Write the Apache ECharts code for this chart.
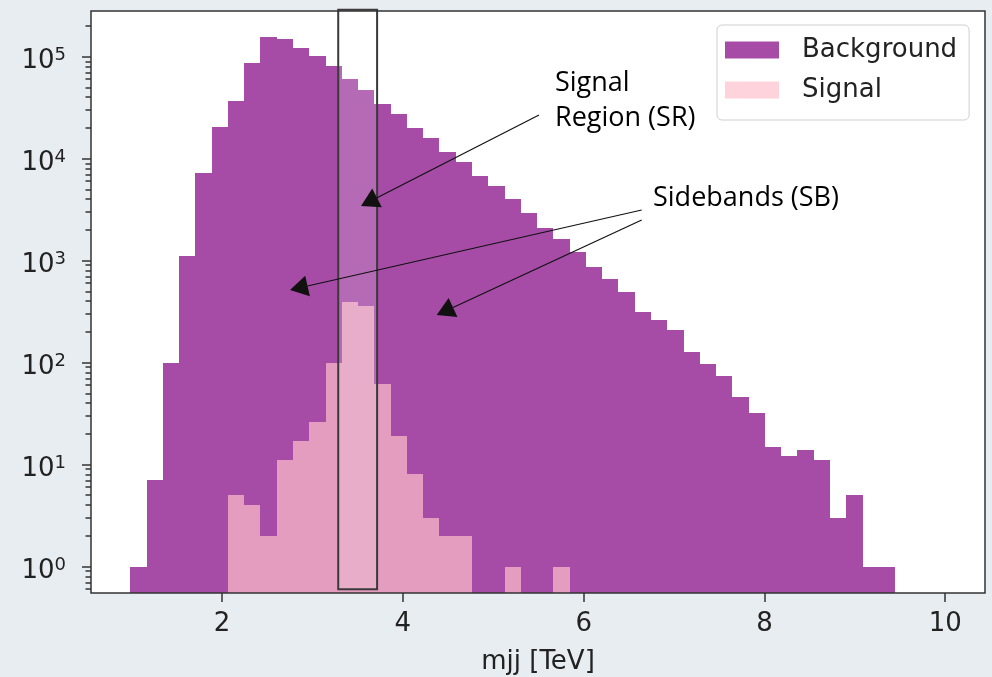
<!DOCTYPE html>
<html><head><meta charset="utf-8">
<script src="https://cdn.jsdelivr.net/npm/echarts@6/dist/echarts.min.js"></script>
<style>html,body{margin:0;padding:0;background:#E8EDF2}#c{width:992px;height:677px}</style>
</head><body><div id="c"></div>
<script>
// ---- data ----
const BIN_START = 0.985;   // first bin edge [TeV]
const BIN_WIDTH = 0.18;    // bin width [TeV]
const backgroundCounts = [1, 7, 100, 1100, 7200, 20300, 37000, 86000, 157000, 148000,
  122000, 102000, 81000, 60000, 47000, 34400, 27200, 20100, 15800, 11700,
  9200, 6800, 5400, 4000, 2900, 2100, 1620, 1200, 870, 660,
  490, 316, 262, 209, 128, 97, 74, 46, 32, 15,
  12, 14, 11, 3, 5, 1, 1, 0, 0, 0];
const signalCounts = [0, 0, 0, 0, 0, 0, 5, 4, 2, 11,
  17, 26, 100, 396, 360, 61, 19, 8, 3, 2,
  2, 0, 0, 1, 0, 0, 1, 0, 0, 0,
  0, 0, 0, 0, 0, 0, 0, 0, 0, 0,
  0, 0, 0, 0, 0, 0, 0, 0, 0, 0];
const xTickValues = [2, 4, 6, 8, 10];
const yTickValues = [1, 10, 100, 1000, 10000, 100000];
const yMinorTickValues = [0.6, 0.7, 0.8, 0.9,
  2, 3, 4, 5, 6, 7, 8, 9,
  20, 30, 40, 50, 60, 70, 80, 90,
  200, 300, 400, 500, 600, 700, 800, 900,
  2000, 3000, 4000, 5000, 6000, 7000, 8000, 9000,
  20000, 30000, 40000, 50000, 60000, 70000, 80000, 90000,
  200000];
const seriesNames = ['Background', 'Signal'];
const SR_RANGE = [3.285, 3.715];
const X_MIN = 0.55, X_MAX = 10.44;
const Y_MIN = 0.55, Y_MAX = 2.8e5;

// ---- styles ----
const BG_COLOR = '#A64CA6';
const SIG_COLOR = '#E49DBF';
const SIG_LEGEND = '#FFD3DB';
const FONT = 'DejaVu Sans';
const TXT = '#222';

function toBins(counts) {
  const out = [];
  counts.forEach((c, i) => {
    if (c > 0) out.push([BIN_START + i * BIN_WIDTH, BIN_START + (i + 1) * BIN_WIDTH, c]);
  });
  return out;
}

function histRender(color) {
  return function (params, api) {
    const p0 = api.coord([api.value(0), api.value(2)]);
    const p1 = api.coord([api.value(1), Y_MIN]);
    const xa = Math.round(p0[0]), xb = Math.round(p1[0]);
    const ya = Math.round(p0[1]);
    return {
      type: 'rect',
      shape: { x: xa, y: ya, width: xb - xa, height: p1[1] - ya },
      style: { fill: color }
    };
  };
}

const chart = echarts.init(document.getElementById('c'), null, { renderer: 'canvas' });

// annotation arrows (pixel overlay, like the slide annotations)
const arrows = [
  { from: [539, 115], tip: [361, 206] },
  { from: [641.7, 210], tip: [290, 290] },
  { from: [641.7, 220], tip: [436.7, 315] }
];
const graphics = [];
arrows.forEach(a => {
  const dx = a.tip[0] - a.from[0], dy = a.tip[1] - a.from[1];
  const len = Math.sqrt(dx * dx + dy * dy);
  const ux = dx / len, uy = dy / len;
  const L = 18, W = 10.5;
  const bx = a.tip[0] - L * ux, by = a.tip[1] - L * uy;
  graphics.push({ type: 'line', z: 100, silent: true,
    shape: { x1: a.from[0], y1: a.from[1], x2: bx, y2: by },
    style: { stroke: '#111', lineWidth: 1.2 } });
  graphics.push({ type: 'polygon', z: 100, silent: true,
    shape: { points: [[a.tip[0], a.tip[1]], [bx - W * uy, by + W * ux], [bx + W * uy, by - W * ux]] },
    style: { fill: '#111' } });
});
graphics.push({ type: 'text', z: 100, x: 555, y: 66, silent: true,
  style: { text: 'Signal\nRegion (SR)', fontSize: 27, fontFamily: 'Open Sans', lineHeight: 35,
    fill: '#000', align: 'left', verticalAlign: 'top' } });
graphics.push({ type: 'text', z: 100, x: 653, y: 181, silent: true,
  style: { text: 'Sidebands (SB)', fontSize: 27, fontFamily: 'Open Sans', lineHeight: 35,
    fill: '#000', align: 'left', verticalAlign: 'top' } });

const tickLine = { color: '#333', width: 1.5 };

const option = {
  backgroundColor: '#E8EDF2',
  animation: false,
  grid: { left: 91, right: 7, top: 11, bottom: 84, show: true, backgroundColor: '#fff', borderWidth: 0,
    containLabel: false, outerBoundsMode: 'none' },
  legend: {
    orient: 'vertical', left: 717, top: 25,
    padding: [10, 12, 15, 8], itemGap: 10,
    itemWidth: 54, itemHeight: 17,
    backgroundColor: 'rgba(255,255,255,0.85)', borderColor: '#cfcfcf', borderWidth: 1, borderRadius: 5,
    selectedMode: false,
    textStyle: { fontSize: 26, fontFamily: FONT, color: TXT, lineHeight: 30, padding: [0, 0, 0, 18] },
    data: [
      { name: seriesNames[0], icon: 'rect', itemStyle: { color: BG_COLOR, borderWidth: 0 } },
      { name: seriesNames[1], icon: 'rect', itemStyle: { color: SIG_LEGEND, borderWidth: 0 } }
    ]
  },
  xAxis: {
    type: 'value', min: X_MIN, max: X_MAX,
    name: 'mjj [TeV]', nameLocation: 'middle', nameGap: 56,
    nameTextStyle: { fontSize: 26, fontFamily: FONT, color: TXT },
    axisLine: { show: false },
    splitLine: { show: false },
    axisTick: { show: true, customValues: xTickValues, length: 9, lineStyle: tickLine },
    axisLabel: { customValues: xTickValues, fontSize: 26, fontFamily: FONT, color: TXT, margin: 18 }
  },
  yAxis: [
    {
      type: 'log', min: Y_MIN, max: Y_MAX, logBase: 10,
      axisLine: { show: false }, splitLine: { show: false },
      axisTick: { show: true, customValues: yTickValues, length: 9, lineStyle: tickLine },
      axisLabel: {
        customValues: yTickValues, margin: 25, padding: [10, 0, 0, 0],
        formatter: v => '{b|10}{s|' + Math.round(Math.log10(v)) + '}',
        rich: {
          b: { fontSize: 26, fontFamily: FONT, color: TXT, lineHeight: 30 },
          s: { fontSize: 18, fontFamily: FONT, color: TXT, lineHeight: 18, verticalAlign: 'top' }
        }
      }
    },
    {
      type: 'log', min: Y_MIN, max: Y_MAX, logBase: 10, position: 'left',
      axisLine: { show: false }, splitLine: { show: false },
      axisLabel: { show: false },
      axisTick: { show: true, customValues: yMinorTickValues, length: 5.5, lineStyle: tickLine }
    }
  ],
  series: [
    {
      name: seriesNames[0], type: 'custom', z: 2, clip: true,
      itemStyle: { color: BG_COLOR },
      encode: { x: [0, 1], y: 2 },
      data: toBins(backgroundCounts),
      renderItem: histRender(BG_COLOR)
    },
    {
      name: seriesNames[1], type: 'custom', z: 3, clip: true,
      itemStyle: { color: SIG_LEGEND },
      encode: { x: [0, 1], y: 2 },
      data: toBins(signalCounts),
      renderItem: histRender(SIG_COLOR)
    },
    {
      name: 'SR box', type: 'custom', z: 5, clip: false, silent: true,
      encode: { x: [0, 1], y: [2, 3] },
      data: [[SR_RANGE[0], SR_RANGE[1], 0.598, 2.88e5]],
      renderItem: function (params, api) {
        const p0 = api.coord([api.value(0), api.value(3)]);
        const p1 = api.coord([api.value(1), api.value(2)]);
        return { type: 'rect',
          shape: { x: p0[0], y: p0[1], width: p1[0] - p0[0], height: p1[1] - p0[1] },
          style: { fill: 'rgba(255,255,255,0.17)', stroke: '#3a3a3a', lineWidth: 2 } };
      }
    },
    {
      name: 'frame', type: 'custom', z: 6, clip: false, silent: true,
      data: [[1, 1]],
      renderItem: function (params) {
        const cs = params.coordSys;
        return { type: 'rect', shape: { x: cs.x, y: cs.y, width: cs.width, height: cs.height },
          style: { fill: 'none', stroke: '#333', lineWidth: 1.5 } };
      }
    }
  ],
  graphic: graphics
};
chart.setOption(option);
</script>
</body></html>
